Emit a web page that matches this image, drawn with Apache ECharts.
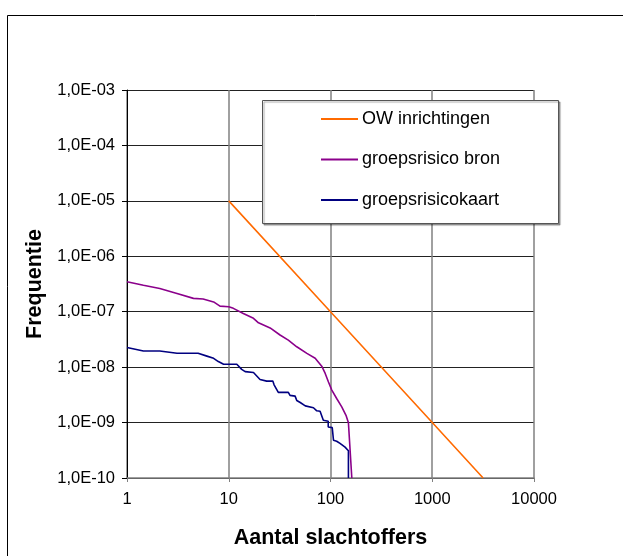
<!DOCTYPE html>
<html>
<head>
<meta charset="utf-8">
<script src="https://cdn.jsdelivr.net/npm/echarts@6/dist/echarts.min.js"></script>
<style>
  html, body { margin: 0; padding: 0; background: #fff; }
  #chart { width: 623px; height: 556px; }
</style>
</head>
<body>
<div id="chart"></div>
<script>
// Orientatiewaarde (OW) voor inrichtingen: F = 1e-3 / N^2
const owX = [10, 100, 1000, 3162];
const owY = [1e-5, 1e-7, 1e-9, 1e-10];

// Groepsrisico berekend uit de bron
const bronX = [1, 1.45, 2.1, 3.1, 4.5, 5.6, 7.1, 8.2, 10, 11.1, 13.9, 17.5, 19.6, 25.5, 31.9, 38.5, 46.6, 58.6, 70.7, 82, 88.7, 95.5, 103, 115, 129, 142, 150, 162];
const bronY = [3.47e-7, 3.0e-7, 2.63e-7, 2.13e-7, 1.74e-7, 1.7e-7, 1.5e-7, 1.26e-7, 1.23e-7, 1.15e-7, 9.3e-8, 7.6e-8, 6.3e-8, 5.1e-8, 3.8e-8, 3.07e-8, 2.33e-8, 1.77e-8, 1.45e-8, 1.04e-8, 7.7e-9, 5.4e-9, 3.85e-9, 2.72e-9, 1.92e-9, 1.35e-9, 9.9e-10, 1e-10];

// Groepsrisico volgens de risicokaart (trapvormig verloop)
const kaartX = [1, 1.45, 2.1, 3.1, 5.0, 5.2, 6.1, 7.1, 7.9, 8.9, 12.0, 13.4, 14.5, 17.5, 20.3, 23.6, 27.1, 27.9, 30.7, 38.5, 40, 44.9, 46.6, 50.4, 56.5, 68, 73.3, 79, 85, 95, 95, 104, 107, 115, 124, 139, 150, 150];
const kaartY = [2.26e-8, 1.95e-8, 1.95e-8, 1.78e-8, 1.78e-8, 1.69e-8, 1.58e-8, 1.44e-8, 1.26e-8, 1.13e-8, 1.13e-8, 9.1e-9, 8.3e-9, 8e-9, 6.0e-9, 5.6e-9, 5.6e-9, 4.8e-9, 3.5e-9, 3.5e-9, 3.1e-9, 3.0e-9, 2.5e-9, 2.3e-9, 2.0e-9, 1.85e-9, 1.63e-9, 1.6e-9, 1.1e-9, 1.06e-9, 8.3e-10, 8.1e-10, 4.8e-10, 4.6e-10, 4.2e-10, 3.6e-10, 3.1e-10, 1e-10];

const seriesNames = ['OW inrichtingen', 'groepsrisico bron', 'groepsrisicokaart'];
const seriesColors = ['#FF6A00', '#8B008B', '#000080'];

const xTickLabels = ['1', '10', '100', '1000', '10000'];
const yTickLabels = ['1,0E-10', '1,0E-09', '1,0E-08', '1,0E-07', '1,0E-06', '1,0E-05', '1,0E-04', '1,0E-03'];

const FONT = '"Liberation Sans", Arial, sans-serif';
const zip = (xs, ys) => xs.map((x, i) => [x, ys[i]]);

const chart = echarts.init(document.getElementById('chart'), null, { renderer: 'canvas' });

chart.setOption({
  animation: false,
  backgroundColor: '#fff',
  grid: { left: 127, top: 90, width: 407, height: 388, containLabel: false },
  graphic: [
    {
      type: 'rect', z: 0, silent: true,
      shape: { x: 7.5, y: 15.5, width: 700, height: 700 },
      style: { fill: 'none', stroke: '#000', lineWidth: 1 }
    },
    {
      type: 'rect', z: 5, silent: true,
      shape: { x: 262.5, y: 100.5, width: 296, height: 123 },
      style: {
        fill: '#fff', stroke: '#555', lineWidth: 1,
        shadowColor: 'rgba(0,0,0,0.35)', shadowOffsetX: 1.5, shadowOffsetY: 1.5, shadowBlur: 1
      }
    }
  ],
  legend: {
    z: 10,
    orient: 'vertical',
    left: 321,
    top: 109,
    padding: 0,
    itemGap: 20.5,
    itemWidth: 37,
    itemHeight: 2,
    icon: 'rect',
    textStyle: { fontFamily: FONT, fontSize: 18, color: '#000', lineHeight: 20, padding: [0, 0, 0, -1] },
    data: seriesNames
  },
  xAxis: {
    type: 'log',
    logBase: 10,
    min: 1,
    max: 10000,
    interval: 1,
    splitNumber: 4,
    name: 'Aantal slachtoffers',
    nameLocation: 'middle',
    nameGap: 49,
    nameTextStyle: { fontFamily: FONT, fontSize: 21.5, fontWeight: 'bold', color: '#000' },
    axisLine: { show: true, lineStyle: { color: '#808080', width: 1.5 } },
    axisTick: { show: true, inside: false, length: 4, lineStyle: { color: '#808080' } },
    minorTick: { show: false },
    axisLabel: {
      margin: 13,
      fontFamily: FONT, fontSize: 16.5, color: '#000',
      formatter: v => xTickLabels[Math.round(Math.log10(v))]
    },
    splitLine: { show: true, lineStyle: { color: '#808080', width: 1.5 } }
  },
  yAxis: {
    type: 'log',
    logBase: 10,
    min: 1e-10,
    max: 1e-3,
    interval: 1,
    splitNumber: 7,
    name: 'Frequentie',
    nameLocation: 'middle',
    nameGap: 80,
    nameRotate: 90,
    nameTextStyle: { fontFamily: FONT, fontSize: 21.5, fontWeight: 'bold', color: '#000' },
    axisLine: { show: true, lineStyle: { color: '#000', width: 1 } },
    axisTick: { show: true, inside: false, length: 5, lineStyle: { color: '#000' } },
    minorTick: { show: false },
    axisLabel: {
      margin: 12,
      fontFamily: FONT, fontSize: 16.5, color: '#000',
      formatter: v => yTickLabels[Math.round(Math.log10(v)) + 10]
    },
    splitLine: { show: true, lineStyle: { color: '#222', width: 1 } }
  },
  series: [
    {
      name: seriesNames[0], type: 'line', showSymbol: false, symbol: 'none',
      color: seriesColors[0], lineStyle: { width: 1.6 },
      data: zip(owX, owY)
    },
    {
      name: seriesNames[1], type: 'line', showSymbol: false, symbol: 'none',
      color: seriesColors[1], lineStyle: { width: 1.6 },
      data: zip(bronX, bronY)
    },
    {
      name: seriesNames[2], type: 'line', showSymbol: false, symbol: 'none',
      color: seriesColors[2], lineStyle: { width: 1.6 },
      data: zip(kaartX, kaartY)
    }
  ]
});
</script>
</body>
</html>
